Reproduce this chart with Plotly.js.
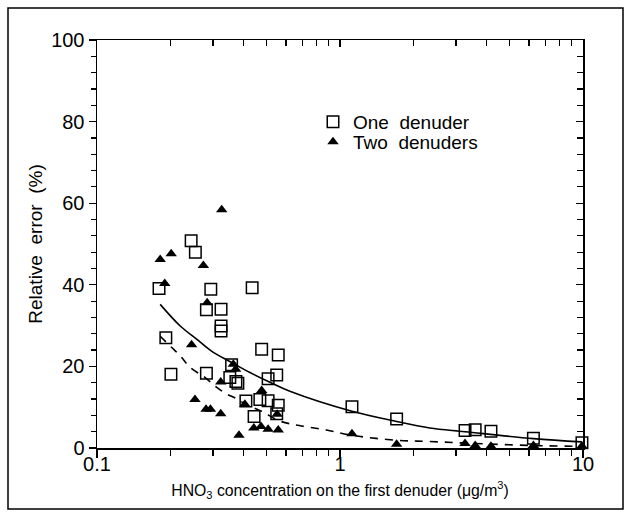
<!DOCTYPE html>
<html><head><meta charset="utf-8">
<script src="https://cdn.plot.ly/plotly-3.0.1.min.js"></script>
<style>html,body{margin:0;padding:0;background:#fff}#plot{width:633px;height:519px}</style>
</head><body><div id="plot"></div>
<script>
// One denuder (open squares)
const oneX = [0.180,0.192,0.2015,0.244,0.254,0.282,0.282,0.294,0.324,0.324,0.324,0.358,0.352,0.373,0.380,0.410,0.435,0.443,0.468,0.476,0.506,0.506,0.549,0.557,0.557,0.549,1.12,1.71,3.27,3.60,4.18,6.25,9.90];
const oneY = [39.1,27.0,18.1,50.8,48.0,33.9,18.3,38.9,34.0,29.9,28.7,20.4,17.3,16.3,15.9,11.5,39.3,7.7,11.9,24.2,17.0,11.6,17.9,22.8,10.5,8.4,10.1,7.1,4.3,4.5,4.1,2.4,1.3];
// Two denuders (filled triangles)
const twoX = [0.182,0.190,0.202,0.245,0.253,0.274,0.284,0.281,0.293,0.326,0.323,0.323,0.364,0.372,0.384,0.406,0.442,0.473,0.476,0.506,0.551,0.557,1.12,1.71,3.27,3.60,4.18,6.25,9.90];
const twoY = [46.2,40.3,47.6,25.3,11.9,44.7,35.6,9.5,9.5,58.4,16.2,8.4,20.5,19.3,3.1,10.7,4.9,5.3,14.1,4.6,8.3,4.4,3.5,0.9,1.1,0.6,0.4,0.6,0.5];
// Fitted curve, one denuder (solid)
const fitOneX = [0.182,0.22,0.257,0.30,0.352,0.426,0.515,0.622,1.12,1.71,2.34,3.27,6.25,9.9];
const fitOneY = [35.2,29.9,26.7,23.5,21.2,18.5,16.1,13.9,9.0,6.5,4.9,4.0,2.3,1.5];
// Fitted curve, two denuders (dashed)
const fitTwoX = [0.182,0.20,0.22,0.241,0.278,0.31,0.34,0.375,0.406,0.44,0.476,0.566,0.68,0.88,1.12,1.71,2.34,3.27,6.25,9.9];
const fitTwoY = [27.4,25.0,22.6,19.8,17.3,14.9,13.3,12.1,10.8,9.9,9.0,6.6,5.5,4.4,3.1,1.9,1.6,1.2,0.6,0.4];
// Ticks
const xTickVals = [0.1,1,10];
const xTickText = ['0.1','1','10'];
const xMinorVals = [0.2,0.3,0.4,0.5,0.6,0.7,0.8,0.9,2,3,4,5,6,7,8,9];
const yTickVals = [0,20,40,60,80,100];

const W=633,H=519,L=97,R=50,T=40,B=71;
const pw=W-L-R, ph=H-T-B;
const font = 'Liberation Sans, Arial, sans-serif';

const traces = [
 {x:fitOneX,y:fitOneY,mode:'lines',line:{color:'#000',width:1.6,shape:'spline'},showlegend:false,hoverinfo:'skip'},
 {x:fitTwoX,y:fitTwoY,mode:'lines',line:{color:'#000',width:1.6,dash:'8px,7px',shape:'spline'},showlegend:false,hoverinfo:'skip'},
 {x:oneX,y:oneY,mode:'markers',name:'One  denuder',legend:'legend',marker:{symbol:'square-open',size:11.5,color:'#000',line:{width:1.5,color:'#000'}},cliponaxis:false},
 {x:twoX,y:twoY,mode:'markers',name:'Two  denuders',legend:'legend2',marker:{symbol:'triangle-up',size:10,color:'#000'},cliponaxis:false},
 {x:[1],y:[50],xaxis:'x2',yaxis:'y2',mode:'markers',marker:{opacity:0},showlegend:false,hoverinfo:'skip'}
];

const axBase = {showline:true,linecolor:'#000',linewidth:1.5,showgrid:false,zeroline:false,tickcolor:'#000',tickwidth:1.2};
const legBase = {xanchor:'left',yanchor:'top',bgcolor:'rgba(0,0,0,0)',borderwidth:0,font:{size:19,family:font},itemwidth:30};
const layout = {
 width:W,height:H,margin:{l:L,r:R,t:T,b:B},
 paper_bgcolor:'#fff',plot_bgcolor:'#fff',
 font:{family:font,color:'#000'},
 xaxis:Object.assign({},axBase,{type:'log',range:[-1,1],tickmode:'array',tickvals:xTickVals,ticktext:xTickText,ticks:'outside',ticklen:8,
   tickfont:{size:20,family:font},ticklabelstandoff:-11,
   minor:{tickmode:'array',tickvals:xMinorVals,ticks:'outside',ticklen:6,tickcolor:'#000',tickwidth:1.2},
   title:{text:'HNO<sub>3</sub> concentration on the first denuder (μg/m<sup>3</sup>)',font:{size:15.8,family:font},standoff:11}}),
 yaxis:Object.assign({},axBase,{range:[0,100],tickmode:'array',tickvals:yTickVals,ticks:'outside',ticklen:7,
   tickfont:{size:20,family:font},
   minor:{dtick:4,ticks:'outside',ticklen:5,tickcolor:'#000',tickwidth:1.2},
   title:{text:'Relative  error  (%)',font:{size:19,family:font},standoff:3}}),
 xaxis2:Object.assign({},axBase,{type:'log',range:[-1,1],overlaying:'x',side:'top',tickmode:'array',tickvals:xTickVals,ticks:'inside',ticklen:7,showticklabels:false,
   minor:{tickmode:'array',tickvals:xMinorVals,ticks:'inside',ticklen:6,tickcolor:'#000',tickwidth:1.2}}),
 yaxis2:Object.assign({},axBase,{range:[0,100],overlaying:'y',side:'right',tickmode:'array',tickvals:yTickVals,ticks:'inside',ticklen:7,showticklabels:false,
   minor:{dtick:4,ticks:'inside',ticklen:6,tickcolor:'#000',tickwidth:1.2}}),
 legend:Object.assign({},legBase,{x:(313-L)/pw,y:(H-B-103)/ph}),
 legend2:Object.assign({},legBase,{x:(313-L)/pw,y:(H-B-123)/ph}),
 shapes:[{type:'rect',xref:'paper',yref:'paper',x0:(8-L)/pw,x1:(623-L)/pw,y0:(H-B-509)/ph,y1:(H-B-8)/ph,line:{color:'#000',width:1.5}}]
};
Plotly.newPlot('plot',traces,layout,{staticPlot:true,displayModeBar:false});
</script></body></html>
